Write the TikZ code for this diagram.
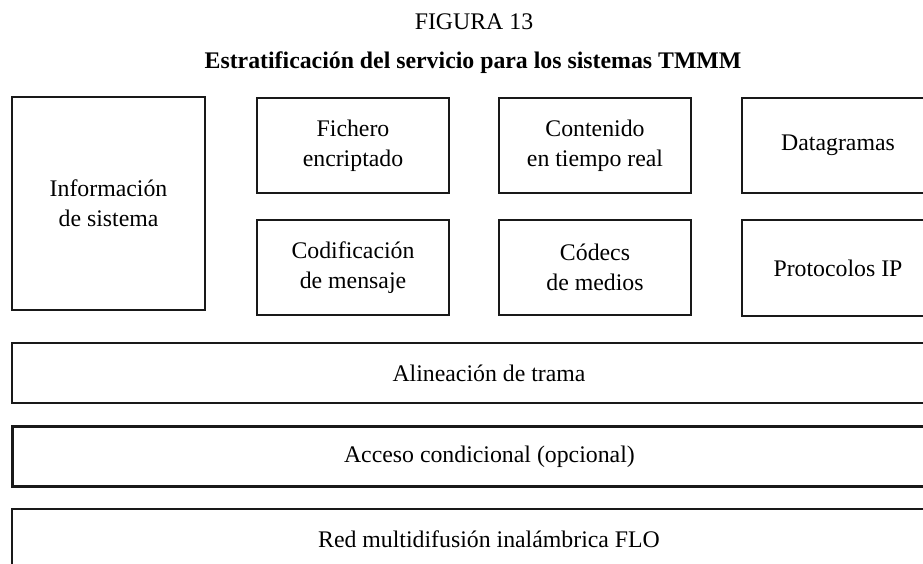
\documentclass[tikz,border=0pt]{standalone}
\usepackage{fontspec}
\setmainfont{Liberation Serif}
\begin{document}
\begin{tikzpicture}[x=1pt,y=-1pt,
  box/.style={draw=black!90,line width=2pt,inner sep=0pt,anchor=north west,align=center,
    font=\fontsize{23.8}{27}\selectfont},
]
\useasboundingbox (0,0) rectangle (923,563);
\clip (0,0) rectangle (923,563);
\node[font=\fontsize{23.8}{25}\selectfont] (fig) at (474,22) {FIGURA 13};
\node[font=\fontsize{23.8}{25}\selectfont\bfseries] (title) at (473,63) {Estratificación del servicio para los sistemas TMMM};
% top row
\node[box,minimum width=193pt,minimum height=213pt] (info) at (11,96) {Información\\[3pt]de sistema};
\node[box,minimum width=192pt,minimum height=95pt] (fich) at (256,97) {Fichero\\[3pt]encriptado};
\node[box,minimum width=192pt,minimum height=95pt] (cont) at (498,97) {Contenido\\[3pt]en tiempo real};
\node[box,minimum width=192pt,minimum height=95pt] (data) at (741,97) {Datagramas};
\node[box,minimum width=192pt,minimum height=95pt] (codi) at (256,219) {Codificación\\[3pt]de mensaje};
\node[box,minimum width=192pt,minimum height=95pt] (code) at (498,219) {Códecs\\[3pt]de medios};
\node[box,minimum width=192pt,minimum height=96pt] (prot) at (741,219) {Protocolos IP};
% layers
\node[box,minimum width=954pt,minimum height=60pt] (alin) at (11,342) {Alineación de trama};
\node[box,line width=2.8pt,minimum width=954pt,minimum height=60pt] (acc) at (11,425) {Acceso condicional (opcional)};
\node[box,minimum width=954pt,minimum height=60pt] (red) at (11,508) {Red multidifusión inalámbrica FLO};
\end{tikzpicture}
\end{document}
